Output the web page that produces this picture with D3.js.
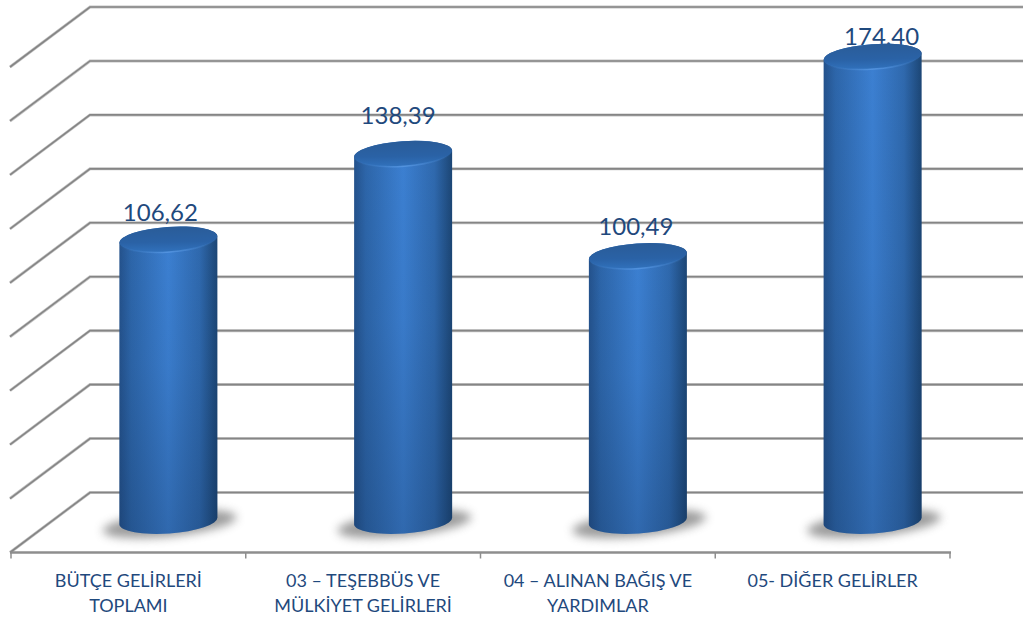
<!DOCTYPE html>
<html>
<head>
<meta charset="utf-8">
<script src="https://cdn.jsdelivr.net/npm/d3@7"></script>
<style>
  html, body { margin: 0; padding: 0; background: #fff; overflow: hidden; }
  text { font-family: Lato, "Open Sans", sans-serif; fill: #1f497d; }
</style>
</head>
<body>
<div id="chart"></div>
<script>
// Data
const categories = [
    ["BÜTÇE GELİRLERİ", "TOPLAMI"],
    ["03 – TEŞEBBÜS VE", "MÜLKİYET GELİRLERİ"],
    ["04 – ALINAN BAĞIŞ VE", "YARDIMLAR"],
    ["05- DİĞER GELİRLER"]
];
const values = [106.62, 138.39, 100.49, 174.40];
const valueLabels = ["106,62", "138,39", "100,49", "174,40"];
const gridTicks = [0, 20, 40, 60, 80, 100, 120, 140, 160, 180];

const width = 1023, height = 617;

// 3D box: front floor edge and how far the back wall is shifted
const floorLeft = 11, floorRight = 950;
const depthX = 79, depthY = -60;

const svg = d3.select("#chart")
    .append("svg")
    .attr("width", width)
    .attr("height", height)
    .style("display", "block");

const x = d3.scaleBand()
    .domain(d3.range(categories.length))
    .range([floorLeft, floorRight]);

const y = d3.scaleLinear()
    .domain([0, 180])
    .range([552.5, 67]);

// Gradients and filters
const defs = svg.append("defs");

const bodyGrad = defs.append("linearGradient").attr("id", "body");
[["0%", "#24528c"], ["12%", "#2d66aa"], ["50%", "#3c80d2"], ["82%", "#2f69ae"], ["100%", "#1c4675"]]
    .forEach(s => bodyGrad.append("stop").attr("offset", s[0]).attr("stop-color", s[1]));

const shadeGrad = defs.append("linearGradient").attr("id", "shade")
    .attr("x1", 0).attr("x2", 0).attr("y1", 0).attr("y2", 1);
[["0%", 0], ["45%", 0.06], ["100%", 0.25]]
    .forEach(s => shadeGrad.append("stop").attr("offset", s[0]).attr("stop-color", "#0c2344").attr("stop-opacity", s[1]));

const capGrad = defs.append("linearGradient").attr("id", "cap")
    .attr("x1", 0.6).attr("x2", 0.4).attr("y1", 0).attr("y2", 1);
[["0%", "#2a5c98"], ["60%", "#2a62a6"], ["100%", "#3172bd"]]
    .forEach(s => capGrad.append("stop").attr("offset", s[0]).attr("stop-color", s[1]));

const rimGrad = defs.append("linearGradient").attr("id", "rim");
[["0%", 0], ["25%", 0.25], ["50%", 0.75], ["75%", 0.3], ["100%", 0]]
    .forEach(s => rimGrad.append("stop").attr("offset", s[0]).attr("stop-color", "#5b9be6").attr("stop-opacity", s[1]));

defs.append("filter").attr("id", "blur")
    .attr("x", "-30%").attr("y", "-100%").attr("width", "160%").attr("height", "300%")
    .append("feGaussianBlur").attr("stdDeviation", 5);

defs.append("filter").attr("id", "soft")
    .attr("x", "-10%").attr("y", "-50%").attr("width", "120%").attr("height", "200%")
    .append("feGaussianBlur").attr("stdDeviation", 0.7);

// Grid lines: left wall diagonal, then back wall. Pale line under a darker one.
const gridPath = d => `M${floorLeft - 1},${y(d)}L${floorLeft + depthX},${y(d) + depthY}H${width}`;
[["#c4c4c4", 3], ["#858585", 1.6]].forEach(s => {
    svg.append("g")
        .selectAll("path")
        .data(gridTicks)
        .enter()
        .append("path")
        .attr("fill", "none")
        .attr("stroke", s[0])
        .attr("stroke-width", s[1])
        .attr("d", gridPath);
});

// Floor front edge and ticks
const floor = svg.append("g");
floor.append("line")
    .attr("x1", floorLeft - 1).attr("x2", floorRight + 1)
    .attr("y1", y(0)).attr("y2", y(0))
    .attr("stroke", "#8e8e8e").attr("stroke-width", 2.5);
floor.selectAll(".tick")
    .data(d3.range(categories.length + 1))
    .enter()
    .append("line")
    .attr("class", "tick")
    .attr("x1", i => floorLeft + i * x.step())
    .attr("x2", i => floorLeft + i * x.step())
    .attr("y1", y(0))
    .attr("y2", y(0) + 6)
    .attr("stroke", "#8e8e8e").attr("stroke-width", 1.5);

// Category labels
svg.append("g")
    .selectAll("text")
    .data(categories)
    .enter()
    .append("text")
    .attr("text-anchor", "middle")
    .attr("font-size", 18)
    .each(function(lines, i) {
        d3.select(this).selectAll("tspan")
            .data(lines)
            .enter()
            .append("tspan")
            .attr("x", x(i) + x.bandwidth() / 2)
            .attr("y", (d, j) => 586.5 + j * 25)
            .text(d => d);
    });

// Cylinder geometry, sits half way into the box
const rx = 49, ry = 12.5, tilt = 3.5, tiltDeg = -4;
const cx = i => x(i) + x.bandwidth() / 2 + depthX / 2 + 0.5;
const yBar = v => y(v) + depthY / 2 + 4.5;
const yBase = yBar(0) - 6;

// Value labels go behind the cylinders
svg.append("g")
    .selectAll("text")
    .data(values)
    .enter()
    .append("text")
    .attr("text-anchor", "middle")
    .attr("font-size", 24)
    .attr("x", (d, i) => cx(i) + [-8, -5, -2, 9][i])
    .attr("y", (d, i) => yBar(d) + [-18, -30, -21, -12][i])
    .text((d, i) => valueLabels[i]);

const bars = svg.append("g")
    .selectAll("g")
    .data(values)
    .enter()
    .append("g");

// Floor shadow
bars.append("ellipse")
    .attr("cx", (d, i) => cx(i) + 1)
    .attr("cy", yBase + 3)
    .attr("rx", rx + 18)
    .attr("ry", ry)
    .attr("transform", (d, i) => `rotate(-6 ${cx(i)} ${yBase})`)
    .attr("fill", "#555")
    .attr("opacity", 0.58)
    .attr("filter", "url(#blur)");

// Side of the cylinder
const bodyPath = (d, i) => {
    const l = cx(i) - rx, r = cx(i) + rx;
    const t = yBar(d), b = yBase;
    return `M${l},${t + tilt}L${l},${b + tilt}` +
        `A${rx},${ry} ${tiltDeg} 0 0 ${r},${b - tilt}` +
        `L${r},${t - tilt}` +
        `A${rx},${ry} ${tiltDeg} 0 0 ${l},${t + tilt}Z`;
};
bars.append("path").attr("d", bodyPath).attr("fill", "url(#body)");
bars.append("path").attr("d", bodyPath).attr("fill", "url(#shade)");

// Top of the cylinder with its lit rim
bars.append("ellipse")
    .attr("cx", (d, i) => cx(i))
    .attr("cy", d => yBar(d))
    .attr("rx", rx)
    .attr("ry", ry)
    .attr("transform", (d, i) => `rotate(${tiltDeg} ${cx(i)} ${yBar(d)})`)
    .attr("fill", "url(#cap)");
bars.append("path")
    .attr("fill", "none")
    .attr("stroke", "url(#rim)")
    .attr("stroke-width", 1.5)
    .attr("filter", "url(#soft)")
    .attr("d", (d, i) => `M${cx(i) - rx},${yBar(d) + tilt}A${rx},${ry} ${tiltDeg} 0 0 ${cx(i) + rx},${yBar(d) - tilt}`);
</script>
</body>
</html>
